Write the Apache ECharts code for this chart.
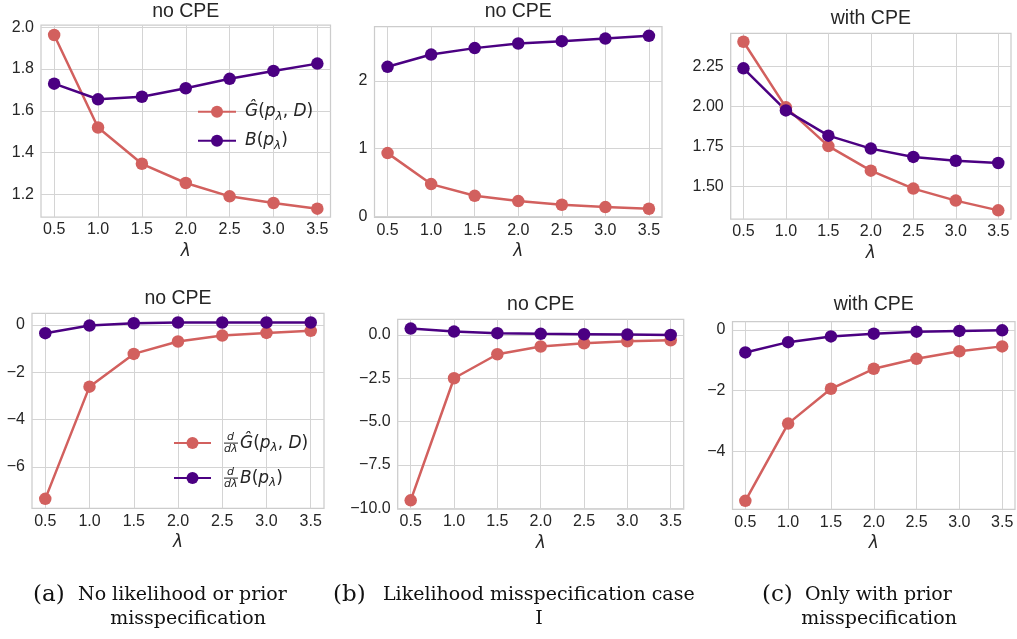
<!DOCTYPE html>
<html><head><meta charset="utf-8">
<script src="https://cdn.jsdelivr.net/npm/echarts@6/dist/echarts.min.js"></script>
<style>html,body{margin:0;padding:0;background:#fff}#c{width:1017px;height:639px}</style>
</head><body><div id="c"></div>
<script>
// ---- data ----
const lambdas = [0.5, 1.0, 1.5, 2.0, 2.5, 3.0, 3.5];
const xTicks  = [0.5, 1.0, 1.5, 2.0, 2.5, 3.0, 3.5];
// (a) no misspecification
const aG  = [1.963, 1.520, 1.346, 1.254, 1.190, 1.158, 1.131];
const aB  = [1.730, 1.655, 1.667, 1.708, 1.753, 1.791, 1.826];
const adG = [-7.35, -2.61, -1.225, -0.70, -0.45, -0.34, -0.25];
const adB = [-0.35, -0.03, 0.07, 0.10, 0.10, 0.10, 0.10];
// (b) likelihood misspecification case I
const bG  = [0.935, 0.478, 0.305, 0.227, 0.173, 0.139, 0.114];
const bB  = [2.208, 2.389, 2.484, 2.552, 2.587, 2.625, 2.665];
const bdG = [-9.54, -2.50, -1.115, -0.67, -0.48, -0.365, -0.31];
const bdB = [0.365, 0.19, 0.10, 0.06, 0.04, 0.02, 0.0];
// (c) prior misspecification
const cG  = [2.406, 1.996, 1.754, 1.600, 1.488, 1.413, 1.352];
const cB  = [2.240, 1.977, 1.819, 1.738, 1.686, 1.662, 1.648];
const cdG = [-5.64, -3.09, -1.94, -1.28, -0.95, -0.70, -0.54];
const cdB = [-0.74, -0.40, -0.21, -0.12, -0.055, -0.03, -0.01];
// tick labels
const aTopY = [1.2, 1.4, 1.6, 1.8, 2.0];
const bTopY = [0, 1, 2];
const cTopY = [1.5, 1.75, 2.0, 2.25];
const aBotY = [-6, -4, -2, 0];
const bBotY = [-10, -7.5, -5, -2.5, 0];
const cBotY = [-4, -2, 0];
const titles = ['no CPE', 'no CPE', 'with CPE', 'no CPE', 'no CPE', 'with CPE'];

// ---- layout ----
const RED = '#d2605e', PURPLE = '#4b0082', INK = '#262626';
const panels = [
  {g: aG,  b: aB,  gn: 'aG',  bn: 'aB',  yt: aTopY, dec: 1, min: 1.091, max: 2.011, box: [41, 25, 289.5, 192],     ty: 11.7},
  {g: bG,  b: bB,  gn: 'bG',  bn: 'bB',  yt: bTopY, dec: 0, min: -0.012, max: 2.80, box: [374.5, 26.7, 287.5, 190.6], ty: 11.7},
  {g: cG,  b: cB,  gn: 'cG',  bn: 'cB',  yt: cTopY, dec: 2, min: 1.298, max: 2.459, box: [730.7, 33.3, 280.3, 185.7], ty: 18.3},
  {g: adG, b: adB, gn: 'adG', bn: 'adB', yt: aBotY, dec: 0, min: -7.75, max: 0.49,  box: [32, 313.3, 292, 195],      ty: 298.3},
  {g: bdG, b: bdB, gn: 'bdG', bn: 'bdB', yt: bBotY, dec: 1, min: -10.04, max: 0.90, box: [397.7, 319.3, 286, 189.7], ty: 305},
  {g: cdG, b: cdB, gn: 'cdG', bn: 'cdB', yt: cBotY, dec: 0, min: -5.92, max: 0.275, box: [732.5, 321.7, 282.5, 187.6], ty: 305}
];

const fmt = (v, d) => v.toFixed(d).replace('-', '\u2212');
const pair = arr => arr.map((v, i) => [lambdas[i], v]);

const grids = [], xAxes = [], yAxes = [], series = [], graphics = [];
panels.forEach((p, i) => {
  const [l, t, w, h] = p.box;
  grids.push({left: l, top: t, width: w, height: h, show: true, backgroundColor: '#fff',
    borderColor: '#cccccc', borderWidth: 1.25, containLabel: false, outerBoundsMode: 'none'});
  xAxes.push({type: 'value', gridIndex: i, min: 0.35, max: 3.65,
    axisLine: {show: false}, axisTick: {show: false, customValues: xTicks},
    axisLabel: {customValues: xTicks, formatter: v => fmt(v, 1), margin: 5,
      fontSize: 16, fontFamily: 'Liberation Sans', color: INK},
    splitLine: {show: true, lineStyle: {color: '#d4d4d4', width: 1}},
    name: 'λ', nameLocation: 'middle', nameGap: 26,
    nameTextStyle: {fontFamily: 'DejaVu Sans', fontStyle: 'italic', fontSize: 17, color: INK}});
  yAxes.push({type: 'value', gridIndex: i, min: p.min, max: p.max,
    axisLine: {show: false}, axisTick: {show: false, customValues: p.yt},
    axisLabel: {customValues: p.yt, formatter: v => fmt(v, p.dec), margin: 7,
      fontSize: 16, fontFamily: 'Liberation Sans', color: INK},
    splitLine: {show: true, lineStyle: {color: '#d4d4d4', width: 1}}});
  [[p.g, p.gn, RED], [p.b, p.bn, PURPLE]].forEach(([arr, nm, col]) => {
    series.push({type: 'line', name: nm, xAxisIndex: i, yAxisIndex: i, data: pair(arr),
      symbol: 'circle', symbolSize: 12.5, color: col,
      lineStyle: {color: col, width: 2.5}, itemStyle: {color: col},
      emphasis: {disabled: true}, animation: false});
  });
  graphics.push({type: 'text', x: l + w / 2, y: p.ty,
    style: {text: titles[i], fill: INK, font: '19.5px "Liberation Sans"', textAlign: 'center', textVerticalAlign: 'middle'}});
});

// captions
const serif = s => s + 'px "DejaVu Serif"';
const captions = [
  ['(a)', 33, 595, 23, 'left'], ['No likelihood or prior', 78, 595, 19, 'left'], ['misspecification', 188, 619, 19, 'center'],
  ['(b)', 333, 595, 23, 'left'], ['Likelihood misspecification case', 383, 595, 19, 'left'], ['I', 539, 619, 19, 'center'],
  ['(c)', 762, 595, 23, 'left'], ['Only with prior', 805, 595, 19, 'left'], ['misspecification', 879, 619, 19, 'center']
];
captions.forEach(([txt, x, y, fs, al]) => graphics.push({type: 'text', x, y,
  style: {text: txt, fill: '#111', font: serif(fs), textAlign: al, textVerticalAlign: 'middle'}}));

// legend rich text
const M = {fontFamily: 'DejaVu Sans', color: INK};
const richTop = {
  it:  Object.assign({fontStyle: 'italic', fontSize: 17, lineHeight: 20}, M),
  it0: Object.assign({fontStyle: 'italic', fontSize: 17, lineHeight: 20, padding: [0, 0, 0, 4]}, M),
  rm:  Object.assign({fontStyle: 'normal', fontSize: 17, lineHeight: 20}, M),
  sub: Object.assign({fontStyle: 'italic', fontSize: 12, lineHeight: 20, padding: [10, 0, 0, 0]}, M)
};
const richBot = {
  num: Object.assign({fontStyle: 'italic', fontSize: 11, lineHeight: 10, padding: [0, 0, 0, 3]}, M),
  den: Object.assign({fontStyle: 'italic', fontSize: 11, lineHeight: 10}, M),
  bar: {width: 14, height: 1, lineHeight: 1.2, backgroundColor: INK},
  it0: Object.assign({fontStyle: 'italic', fontSize: 17, lineHeight: 0.1, padding: [0, 0, 0, 2]}, M),
  it:  Object.assign({fontStyle: 'italic', fontSize: 17, lineHeight: 0.1}, M),
  rm:  Object.assign({fontStyle: 'normal', fontSize: 17, lineHeight: 0.1}, M),
  sub: Object.assign({fontStyle: 'italic', fontSize: 12, lineHeight: 0.1, padding: [10, 0, 0, 0]}, M)
};
const legendText = {
  aG: '{it0|Ĝ}{rm|(}{it|p}{sub|λ}{rm|, }{it|D}{rm|)}',
  aB: '{it0|B}{rm|(}{it|p}{sub|λ}{rm|)}',
  adG: '{num|d}\n{bar|}{it0|Ĝ}{rm|(}{it|p}{sub|λ}{rm|, }{it|D}{rm|)}\n{den|dλ}',
  adB: '{num|d}\n{bar|}{it0|B}{rm|(}{it|p}{sub|λ}{rm|)}\n{den|dλ}'
};

const option = {
  backgroundColor: '#fff',
  animation: false,
  grid: grids, xAxis: xAxes, yAxis: yAxes, series,
  legend: [
    {data: ['aG', 'aB'], orient: 'vertical', left: 197, top: 100.7, padding: 0, itemGap: 7,
     itemWidth: 38, itemHeight: 15, selectedMode: false,
     formatter: n => legendText[n], textStyle: {rich: richTop, color: INK}},
    {data: ['adG', 'adB'], orient: 'vertical', left: 173, top: 432, padding: 0, itemGap: 12.8,
     itemWidth: 37, itemHeight: 15, selectedMode: false,
     formatter: n => legendText[n], textStyle: {rich: richBot, color: INK, padding: [0, 0, 0, 8]}}
  ],
  graphic: graphics
};
const chart = echarts.init(document.getElementById('c'), null, {renderer: 'canvas'});
chart.setOption(option);
</script>
</body></html>
